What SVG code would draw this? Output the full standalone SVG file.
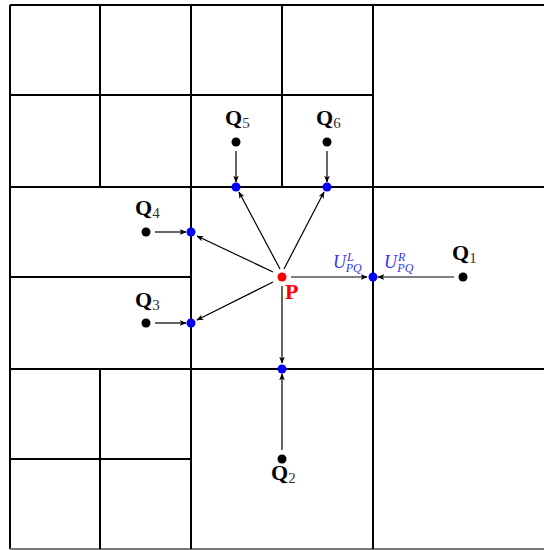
<svg xmlns="http://www.w3.org/2000/svg" width="544" height="550" viewBox="0 0 544 550">
<style>
.g{stroke:#000;stroke-width:2;fill:none}
.c{stroke:#000;stroke-width:1.2;fill:none;marker-end:url(#ah)}
.q{font-family:"Liberation Serif",serif;font-weight:bold;font-size:22px;fill:#000}
.s{font-weight:normal;font-size:15px;fill:#333}
.u{font-family:"Liberation Serif",serif;font-style:italic;font-size:18px;fill:#3333ee}
.us{font-size:12px}
</style>
<defs>
<marker id="ah" viewBox="0 0 10 8" refX="9" refY="4" markerWidth="7" markerHeight="5.6" orient="auto" markerUnits="userSpaceOnUse">
<path d="M0,0 L10,4 L0,8 L2.5,4 Z" fill="#000"/>
</marker>
</defs>
<rect width="544" height="550" fill="#fff"/>
<g id="grid">
<path class="g" d="M10,5 H544 M10,5 V549"/>
<path stroke="#777" stroke-width="2" d="M10,549 H544"/>
<path class="g" d="M100,5 V187 M10,95 H373 M191,5 V549 M282,5 V187 M373,5 V549"/>
<path class="g" d="M10,187 H544 M10,369 H544 M10,277 H191 M100,369 V549 M10,459 H191"/>
</g>
<g id="connectors">
<line class="c" x1="236" y1="151" x2="236" y2="182"/>
<line class="c" x1="327" y1="151" x2="327" y2="182"/>
<line class="c" x1="155" y1="232" x2="186" y2="232"/>
<line class="c" x1="155" y1="323" x2="186" y2="323"/>
<line class="c" x1="454" y1="277" x2="378" y2="277"/>
<line class="c" x1="282" y1="450" x2="282" y2="374"/>
<line class="c" x1="280" y1="269" x2="239" y2="192"/>
<line class="c" x1="284" y1="269" x2="324" y2="192"/>
<line class="c" x1="273" y1="272" x2="197" y2="236"/>
<line class="c" x1="273" y1="282" x2="197" y2="320"/>
<line class="c" x1="291" y1="277" x2="367" y2="277"/>
<line class="c" x1="282" y1="286" x2="282" y2="363"/>
</g>
<g id="P"><circle cx="282" cy="277" r="4.5" fill="#f00"/><text x="285" y="299" font-family="Liberation Serif,serif" font-weight="bold" font-size="22" fill="#f00">P</text></g>
<g id="U1"><circle cx="236" cy="187" r="4.5" fill="#00f"/></g>
<g id="U2"><circle cx="327" cy="187" r="4.5" fill="#00f"/></g>
<g id="U3"><circle cx="191" cy="232" r="4.5" fill="#00f"/></g>
<g id="U4"><circle cx="191" cy="323" r="4.5" fill="#00f"/></g>
<g id="U5"><circle cx="373" cy="277" r="4.5" fill="#00f"/>
<text class="u" x="333" y="268">U<tspan class="us" dx="1" dy="-7">L</tspan><tspan class="us" dx="-8" dy="11">PQ</tspan></text>
<text class="u" x="384" y="268">U<tspan class="us" dx="1" dy="-7">R</tspan><tspan class="us" dx="-8" dy="11">PQ</tspan></text>
</g>
<g id="U6"><circle cx="282" cy="369" r="4.5" fill="#00f"/></g>
<g id="Q1"><circle cx="463" cy="277" r="4.5"/><text class="q" x="452" y="260">Q<tspan class="s" dy="3">1</tspan></text></g>
<g id="Q2"><circle cx="282" cy="459" r="4.5"/><text class="q" x="271" y="480">Q<tspan class="s" dy="3">2</tspan></text></g>
<g id="Q3"><circle cx="146" cy="323" r="4.5"/><text class="q" x="135" y="307">Q<tspan class="s" dy="3">3</tspan></text></g>
<g id="Q4"><circle cx="146" cy="232" r="4.5"/><text class="q" x="135" y="215">Q<tspan class="s" dy="3">4</tspan></text></g>
<g id="Q5"><circle cx="236" cy="142" r="4.5"/><text class="q" x="225" y="125">Q<tspan class="s" dy="3">5</tspan></text></g>
<g id="Q6"><circle cx="327" cy="142" r="4.5"/><text class="q" x="316" y="125">Q<tspan class="s" dy="3">6</tspan></text></g>
</svg>
